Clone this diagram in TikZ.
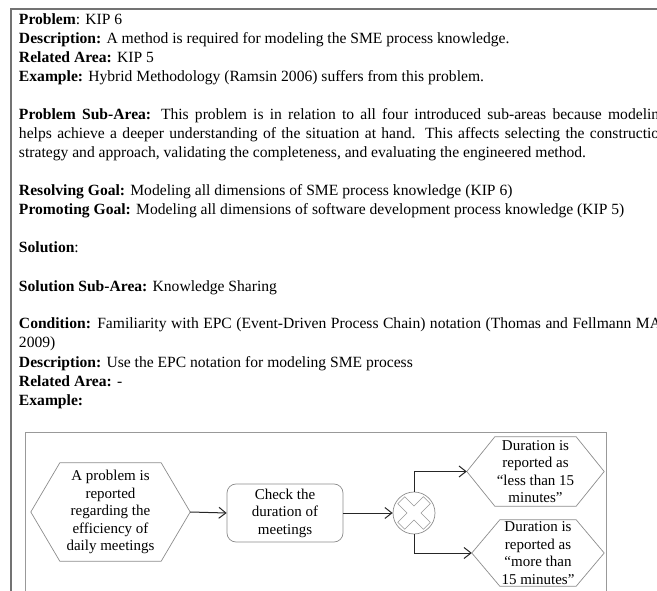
\documentclass[tikz,border=0pt]{standalone}
\usepackage{fontspec}
\setmainfont{Liberation Serif}
\usetikzlibrary{arrows.meta,calc}

\tikzset{
  bodyline/.style={anchor=base west, inner sep=0pt, outer sep=0pt,
    font=\fontsize{15.6}{19}\selectfont},
  evtnode/.style={inner sep=0pt, align=center,
    font=\fontsize{15}{17.5}\selectfont},
  shapeline/.style={draw=black!45, line width=0.7pt},
  fnnode/.style={evtnode, shapeline, rounded corners=9pt},
  flow/.style={draw=black!85, line width=1pt,
    -{Straight Barb[length=7pt,width=11pt,line width=1pt]}},
  framegray/.style={draw=black!55, line width=1.6pt},
}

% hexagonal event outline around a named node; #2 = length of the pointed ends
\newcommand{\eventhex}[2]{%
  \draw[shapeline] (#1.west) -- ($(#1.north west)+(#2,0)$) -- ($(#1.north east)-(#2,0)$)
    -- (#1.east) -- ($(#1.south east)-(#2,0)$) -- ($(#1.south west)+(#2,0)$) -- cycle;}

\begin{document}
\begin{tikzpicture}[x=1pt,y=-1pt]
\useasboundingbox (0,0) rectangle (657,591);
\clip (0,0) rectangle (657,591);

% page frame (left and top rules)
\coordinate (fl) at (11,591);
\coordinate (fc) at (11,9);
\coordinate (fr) at (660,9);
\draw[framegray] (fl) -- (fc) -- (fr);

% text lines
\def\pitch{19}
\def\base{25}
\def\jw{648pt}
\node[bodyline] (l1) at (19,\base) {\textbf{Problem}: KIP 6};
\node[bodyline] (l2) at (19,\base+\pitch) {\textbf{Description:} A method is required for modeling the SME process knowledge.};
\node[bodyline] (l3) at (19,\base+2*\pitch) {\textbf{Related Area:} KIP 5};
\node[bodyline] (l4) at (19,\base+3*\pitch) {\textbf{Example:} Hybrid Methodology (Ramsin 2006) suffers from this problem.};
\node[bodyline] (l6) at (19,\base+5*\pitch) {\makebox[\jw][s]{\textbf{Problem Sub-Area:} This problem is in relation to all four introduced sub-areas because modeling}};
\node[bodyline] (l7) at (19,\base+6*\pitch) {\makebox[\jw][s]{helps achieve a deeper understanding of the situation at hand. This affects selecting the construction}};
\node[bodyline] (l8) at (19,\base+7*\pitch) {strategy and approach, validating the completeness, and evaluating the engineered method.};
\node[bodyline] (l10) at (19,\base+9*\pitch) {\textbf{Resolving Goal:} Modeling all dimensions of SME process knowledge (KIP 6)};
\node[bodyline] (l11) at (19,\base+10*\pitch) {\textbf{Promoting Goal:} Modeling all dimensions of software development process knowledge (KIP 5)};
\node[bodyline] (l13) at (19,\base+12*\pitch) {\textbf{Solution}:};
\node[bodyline] (l15) at (19,\base+14*\pitch) {\textbf{Solution Sub-Area:} Knowledge Sharing};
\node[bodyline] (l17) at (19,\base+16*\pitch) {\makebox[642pt][s]{\textbf{Condition:} Familiarity with EPC (Event-Driven Process Chain) notation (Thomas and Fellmann MA}};
\node[bodyline] (l18) at (19,\base+17*\pitch) {2009)};
\node[bodyline] (l19) at (19,\base+18*\pitch) {\textbf{Description:} Use the EPC notation for modeling SME process};
\node[bodyline] (l20) at (19,\base+19*\pitch) {\textbf{Related Area:} -};
\node[bodyline] (l21) at (19,\base+20*\pitch) {\textbf{Example:}};

% EPC example frame
\draw[draw=black!40, line width=0.8pt] (25,600) -- (25,432) -- (606,432) -- (606,600);

% start event
\node[evtnode, minimum width=159pt, minimum height=98pt] (e1) at (110.5,512)
  {A problem is\\reported\\regarding the\\efficiency of\\daily meetings};
\eventhex{e1}{29pt}

% function
\node[fnnode, minimum width=116pt, minimum height=58pt] (f1) at (285,513)
  {Check the\\duration of\\meetings};

% XOR connector
\node[circle, shapeline, minimum size=42pt, inner sep=0pt] (x1) at (414,513) {};
\begin{scope}[line cap=butt]
  \draw[black!40, line width=10.5pt] ($(x1)+(-13,-13)$) -- ($(x1)+(13,13)$);
  \draw[black!40, line width=10.5pt] ($(x1)+(-13,13)$) -- ($(x1)+(13,-13)$);
  \draw[white, line width=9pt] ($(x1)+(-12.5,-12.5)$) -- ($(x1)+(12.5,12.5)$);
  \draw[white, line width=9pt] ($(x1)+(-12.5,12.5)$) -- ($(x1)+(12.5,-12.5)$);
\end{scope}

% result events
\node[evtnode, minimum width=137pt, minimum height=69pt] (e2) at (535.5,471.5)
  {Duration is\\reported as\\``less than 15\\minutes''};
\eventhex{e2}{28pt}
\node[evtnode, minimum width=132pt, minimum height=66pt] (e3) at (538,553)
  {Duration is\\reported as\\``more than\\15 minutes''};
\eventhex{e3}{28pt}

% control flow
\draw[flow] (e1.east) -- (f1.west);
\draw[flow] (f1.east) -- (x1.west);
\draw[flow] (x1.north) |- (e2.west);
\draw[flow] (x1.south) |- (e3.west);
\end{tikzpicture}
\end{document}
